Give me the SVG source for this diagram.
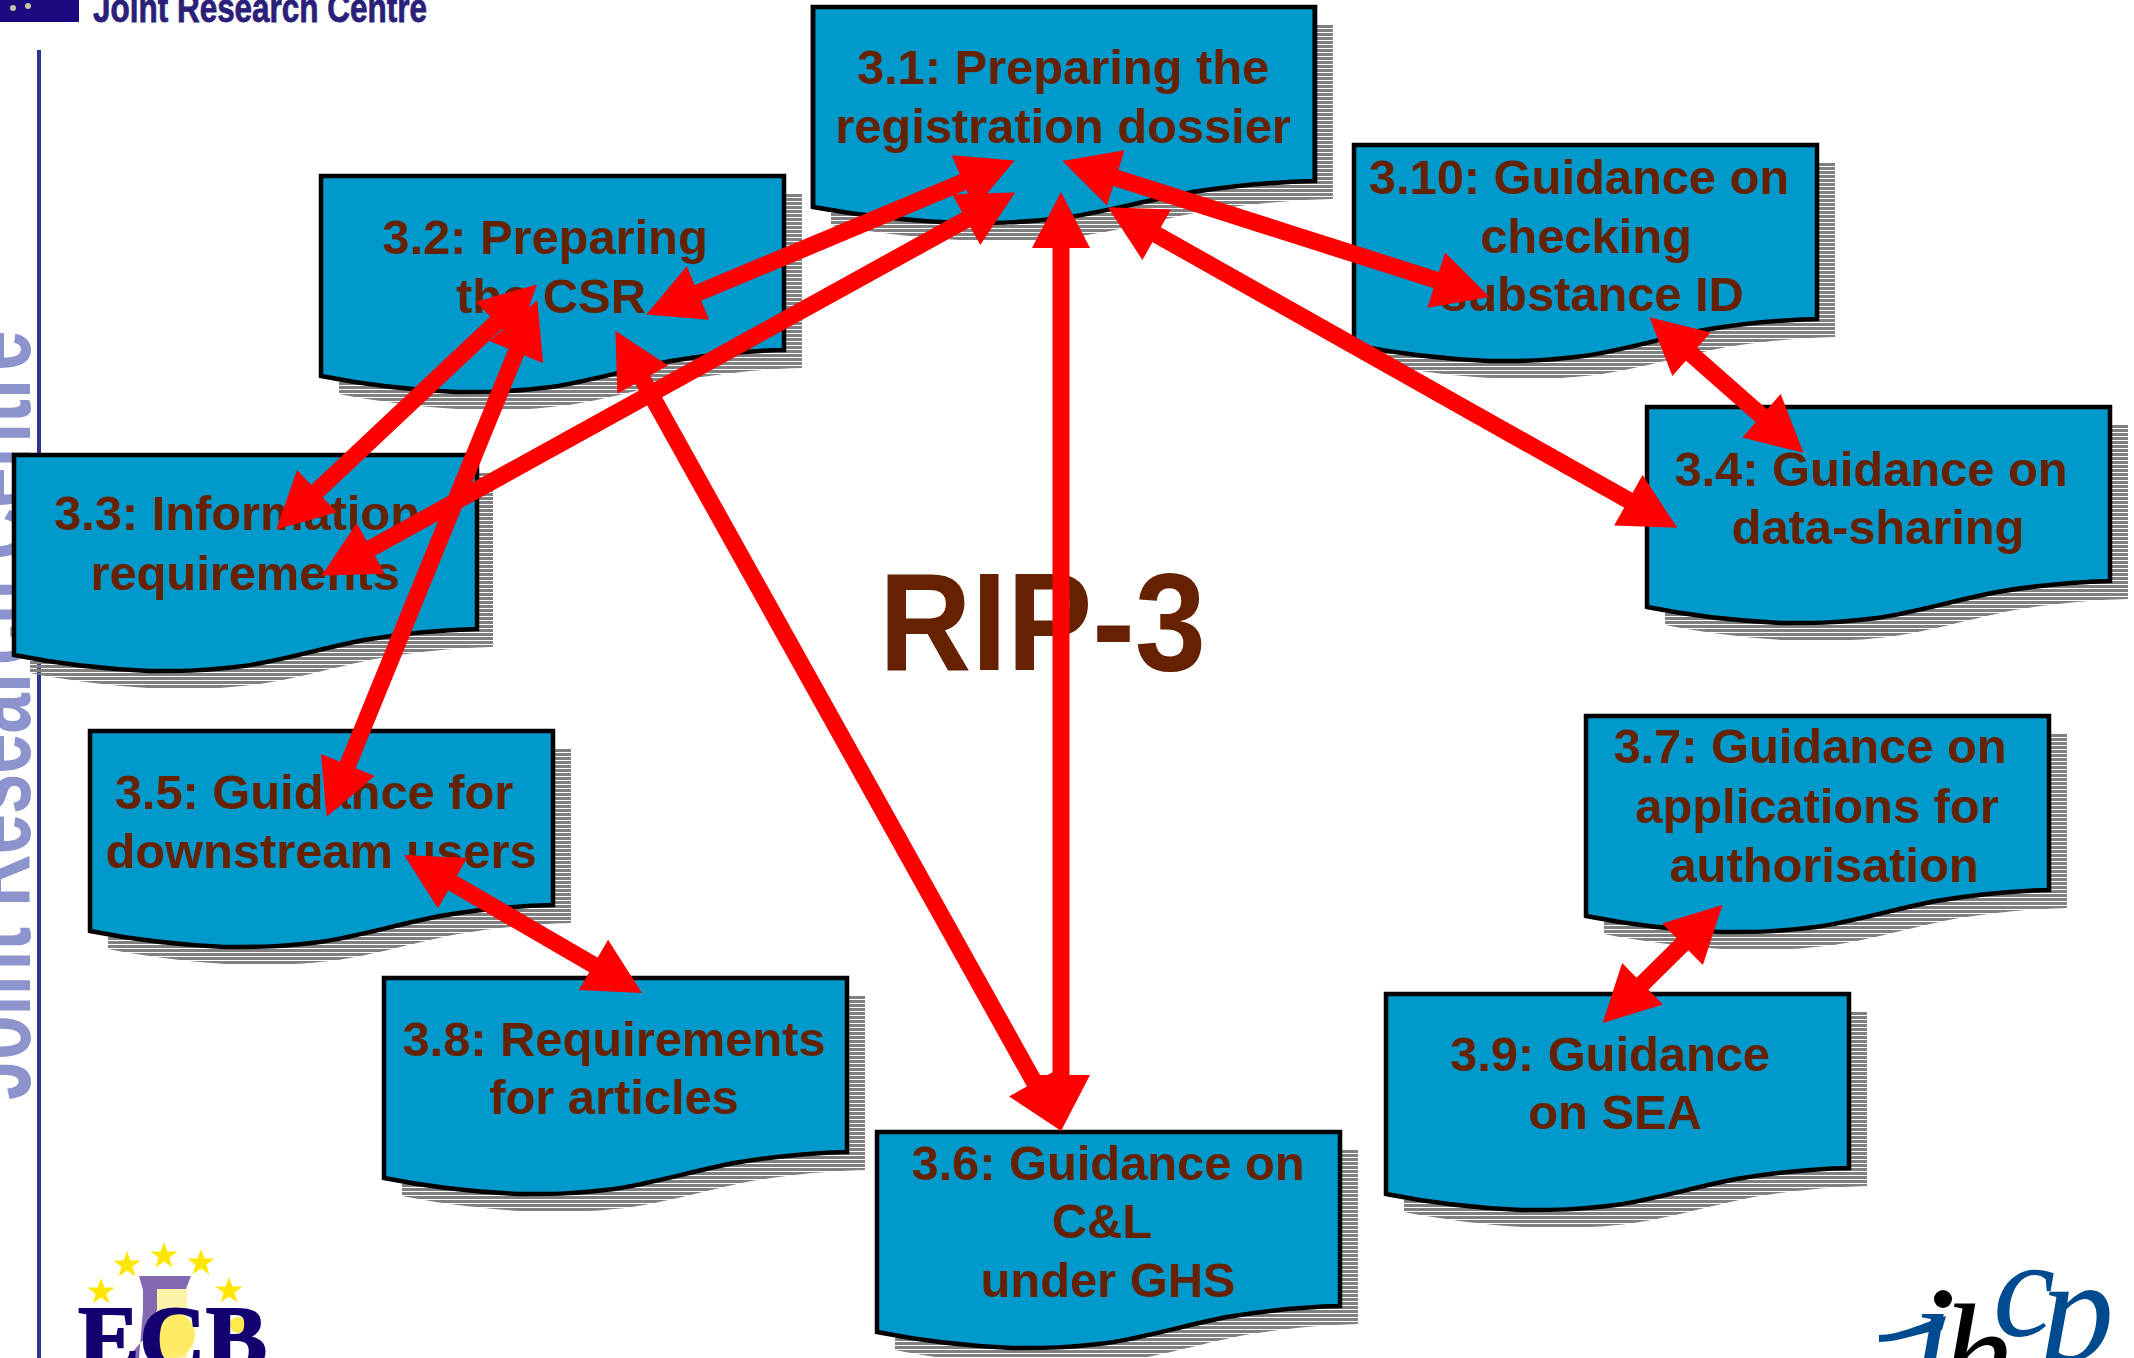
<svg xmlns="http://www.w3.org/2000/svg" width="2134" height="1358" viewBox="0 0 2134 1358">
<style>
.box{fill:#0099cc;stroke:#000;stroke-width:4.5;stroke-linejoin:miter}
.shadow{fill:url(#stripes)}
.t{font-family:"Liberation Sans",Arial,sans-serif;font-weight:700;font-size:48.8px;fill:#662200;text-anchor:middle}
.c{stroke:#ff0000;stroke-width:17;fill:none;marker-start:url(#head);marker-end:url(#head)}
.star{fill:#ffe600}
.logo{font-family:"Liberation Serif",serif;font-style:italic;font-size:148px}
</style>
<defs>
<pattern id="stripes" patternUnits="userSpaceOnUse" width="8" height="4"><rect width="8" height="3" fill="#808080"/></pattern>
<path id="doc" d="M0 0H463V174C420 175 380 180 350 185C300 195 270 205 230 211C190 216 170 216 135 216C90 214 40 208 0 200Z"/>
<marker id="head" markerUnits="userSpaceOnUse" markerWidth="60" markerHeight="60" viewBox="0 -30 60 60" refX="30" refY="0" orient="auto-start-reverse"><path d="M4 -29L60 0L4 29Z" fill="#ff0000"/></marker>
<polygon id="st" points="0,-14 3.4,-4.4 13.5,-4.4 5.4,1.7 8.3,11.3 0,5.6 -8.3,11.3 -5.4,1.7 -13.5,-4.4 -3.4,-4.4"/>
</defs>
<rect width="2134" height="1358" fill="#fff"/>
<g id="header">
<rect x="0" y="0" width="79" height="22" fill="#1a0a80"/>
<circle cx="13" cy="8" r="3" fill="#c8c4a0"/><circle cx="28" cy="6" r="3" fill="#c8c4a0"/>
<text x="93" y="22" font-family="'Liberation Sans',sans-serif" font-weight="700" font-size="40" fill="#2b1f7a" stroke="#2b1f7a" stroke-width="0.8" textLength="334" lengthAdjust="spacingAndGlyphs">Joint Research Centre</text>
</g>
<rect x="37" y="50" width="4" height="1308" fill="#333399"/>
<text transform="translate(30 1100) rotate(-90) scale(1 1.5)" font-family="'Liberation Sans',sans-serif" font-weight="700" font-size="72.5" fill="#8d93cc">Joint Research Centre</text>
<g id="ecb-logo">
<path d="M139 1276H191L186 1289H157V1310L143 1340L127 1358H139L143 1310V1290Z" fill="#8468b0"/>
<rect x="157" y="1289" width="30" height="69" fill="#fdf3a8"/>
<circle cx="172" cy="1335" r="23" fill="#ffec66"/>
<circle cx="238" cy="1325" r="8" fill="#ffe94d"/>
<use href="#st" class="star" x="164" y="1256"/><use href="#st" class="star" x="127" y="1265"/><use href="#st" class="star" x="201" y="1263"/><use href="#st" class="star" x="101" y="1292"/><use href="#st" class="star" x="229" y="1291"/>
<text x="78" y="1369" font-family="'Liberation Serif',serif" font-weight="700" font-size="92" fill="#150070" stroke="#150070" stroke-width="2">ECB</text>
</g>
<g id="ihcp-logo">
<path d="M1879 1335C1900 1335 1925 1322 1946 1316L1942 1330C1920 1332 1900 1342 1879 1342Z" fill="#004a8f"/>
<text x="1912" y="1382" class="logo" fill="#004a8f">ı</text>
<circle cx="1943" cy="1299" r="9" fill="#000"/>
<text x="1940" y="1407" class="logo" fill="#000">h</text>
<text x="1993" y="1336" class="logo" fill="#004a8f" style="font-size:140px">c</text>
<text x="2040" y="1360" class="logo" fill="#004a8f">p</text>
</g>
<text id="title" x="879" y="670" font-family="'Liberation Sans',sans-serif" font-weight="700" font-size="140" fill="#662200" textLength="327" lengthAdjust="spacingAndGlyphs">RIP-3</text>
<g id="n31"><use href="#doc" class="shadow" transform="translate(831 25) scale(1.084 1)"/><use href="#doc" class="box" transform="translate(813 7) scale(1.084 1)"/><text class="t" x="1063" y="84">3.1: Preparing the</text><text class="t" x="1063" y="143">registration dossier</text></g>
<g id="n32"><use href="#doc" class="shadow" transform="translate(339 194)"/><use href="#doc" class="box" transform="translate(321 176)"/><text class="t" x="545" y="254">3.2: Preparing</text><text class="t" x="551" y="313">the CSR</text></g>
<g id="n33"><use href="#doc" class="shadow" transform="translate(30 473)"/><use href="#doc" class="box" transform="translate(14 455)"/><text class="t" x="237" y="530">3.3: Information</text><text class="t" x="245" y="590">requirements</text></g>
<g id="n310"><use href="#doc" class="shadow" transform="translate(1372 163)"/><use href="#doc" class="box" transform="translate(1354 145)"/><text class="t" x="1579" y="194">3.10: Guidance on</text><text class="t" x="1586" y="253">checking</text><text class="t" x="1592" y="311">substance ID</text></g>
<g id="n34"><use href="#doc" class="shadow" transform="translate(1665 425)"/><use href="#doc" class="box" transform="translate(1647 407)"/><text class="t" x="1871" y="486">3.4: Guidance on</text><text class="t" x="1878" y="544">data-sharing</text></g>
<g id="n35"><use href="#doc" class="shadow" transform="translate(108 749)"/><use href="#doc" class="box" transform="translate(90 731)"/><text class="t" x="314" y="809">3.5: Guidance for</text><text class="t" x="321" y="868">downstream users</text></g>
<g id="n36"><use href="#doc" class="shadow" transform="translate(895 1150)"/><use href="#doc" class="box" transform="translate(877 1132)"/><text class="t" x="1108" y="1180">3.6: Guidance on</text><text class="t" x="1102" y="1238">C&amp;L</text><text class="t" x="1108" y="1297">under GHS</text></g>
<g id="n37"><use href="#doc" class="shadow" transform="translate(1604 734)"/><use href="#doc" class="box" transform="translate(1586 716)"/><text class="t" x="1810" y="763">3.7: Guidance on</text><text class="t" x="1817" y="823">applications for</text><text class="t" x="1824" y="882">authorisation</text></g>
<g id="n38"><use href="#doc" class="shadow" transform="translate(402 996)"/><use href="#doc" class="box" transform="translate(384 978)"/><text class="t" x="614" y="1056">3.8: Requirements</text><text class="t" x="614" y="1114">for articles</text></g>
<g id="n39"><use href="#doc" class="shadow" transform="translate(1404 1012)"/><use href="#doc" class="box" transform="translate(1386 994)"/><text class="t" x="1610" y="1071">3.9: Guidance</text><text class="t" x="1615" y="1129">on SEA</text></g>
<g id="connectors">
<path class="c" d="M987 172L674 303"/>
<path class="c" d="M989 207L348 561"/>
<path class="c" d="M1061 222V1101"/>
<path class="c" d="M1091 170L1461 288"/>
<path class="c" d="M1134 222L1651 513"/>
<path class="c" d="M630 357L1047 1105"/>
<path class="c" d="M515 305L298 509"/>
<path class="c" d="M526 328L338 789"/>
<path class="c" d="M1672 337L1781 433"/>
<path class="c" d="M430 870L616 978"/>
<path class="c" d="M1701 926L1624 1002"/>
</g>
</svg>
